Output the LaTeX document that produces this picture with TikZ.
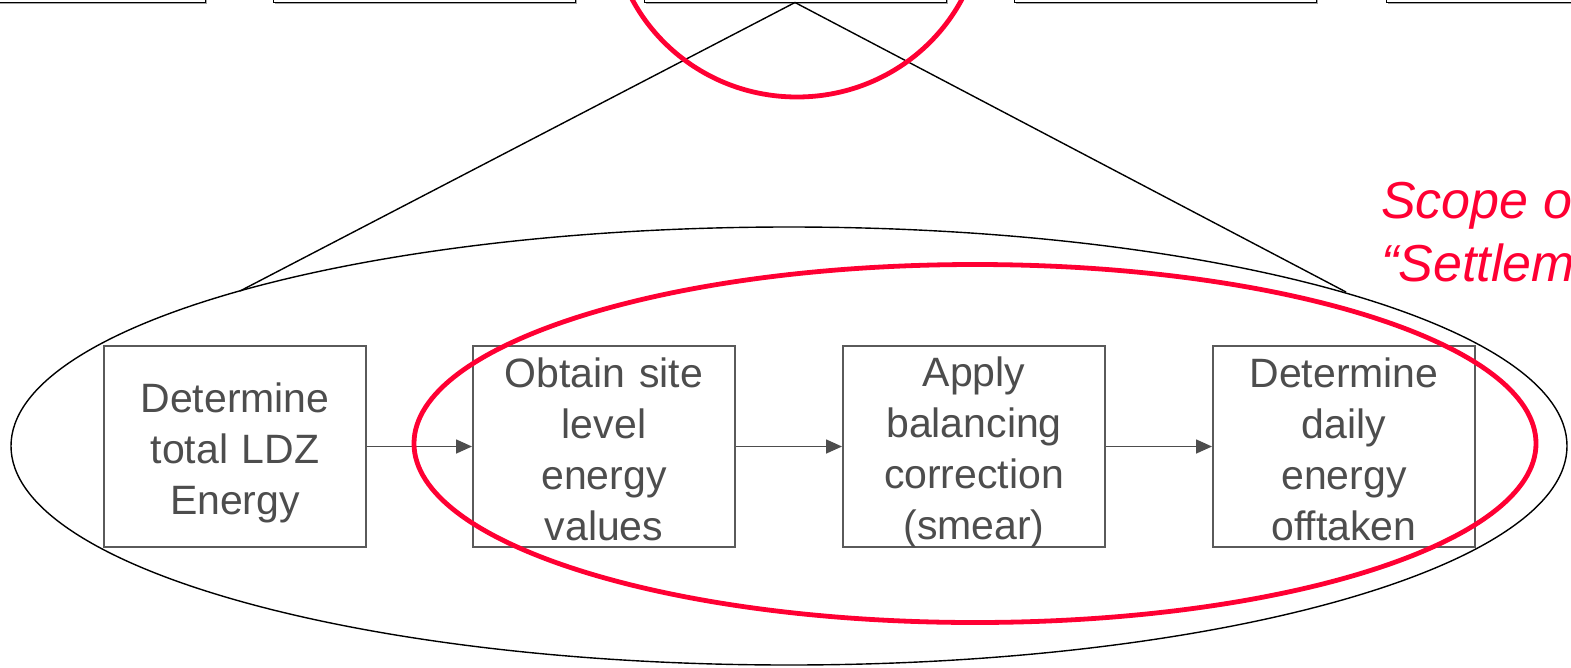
\documentclass[tikz,border=0pt]{standalone}
\usepackage{fontspec}
\setmainfont{Liberation Sans}
\usetikzlibrary{arrows.meta,shapes.geometric,shadows}
\definecolor{scopered}{RGB}{255,0,51}
\definecolor{boxgray}{RGB}{90,90,90}
\definecolor{textgray}{RGB}{77,77,77}
\tikzset{
  topbox/.style={draw=black, line width=1pt, fill=white, minimum width=302pt,
    minimum height=100pt, inner sep=0pt,
    drop shadow={shadow xshift=1.8pt, shadow yshift=-1.8pt, fill=gray!70, opacity=1}},
  stepbox/.style={draw=boxgray, line width=2pt, fill=white, minimum width=262pt,
    minimum height=201pt, inner sep=0pt},
  steptext/.style={text width=250pt, inner sep=0pt, align=center,
    text=textgray, font=\fontsize{41}{51}\selectfont},
  flow/.style={draw=textgray, line width=1.6pt, -{Triangle[length=16pt,width=14pt]}},
  zoomline/.style={draw=black, line width=1.4pt},
  redring/.style={draw=scopered, line width=4.8pt}
}
\begin{document}
\begin{tikzpicture}[x=1pt,y=-1pt]
\useasboundingbox (0,0) rectangle (1571,667);

% row of process boxes along the top edge
\node[topbox] (t1) at (54,-48) {};
\node[topbox] (t2) at (424,-48) {};
\node[topbox] (t3) at (795,-48) {};
\node[topbox] (t4) at (1165,-48) {};
\node[topbox] (t5) at (1537,-48) {};

% expanded view of the middle process
\node[ellipse, draw=black, line width=1.4pt, minimum width=1556pt,
      minimum height=438pt, inner sep=0pt] (detail) at (789,446) {};
\coordinate (lend) at (240,291);
\coordinate (rend) at (1346,292);
\draw[zoomline] (lend) -- (t3.south) -- (rend);

% sub-steps: frames, then their wording
\node[stepbox] (s1) at (235,446.5) {};
\node[stepbox] (s2) at (604,446.5) {};
\node[stepbox] (s3) at (974,446.5) {};
\node[stepbox] (s4) at (1344,446.5) {};

\node[steptext] (s1text) at ([yshift=-6pt]s1.center) {Determine\\total LDZ\\Energy};
\node[steptext] (s2text) at ([yshift=-3pt]s2.center) {Obtain site\\level\\energy\\values};
\node[steptext] (s3text) at ([yshift=-6pt]s3.center) {Apply\\balancing\\correction\\(smear)};
\node[steptext] (s4text) at ([yshift=-3pt]s4.center) {Determine\\daily\\energy\\offtaken};

\draw[flow] (s1.east) -- (s2.west);
\draw[flow] (s2.east) -- (s3.west);
\draw[flow] (s3.east) -- (s4.west);

% highlighted scope
\draw[redring] (797,-85) ellipse [x radius=186, y radius=182];
\node[ellipse, draw=scopered, line width=4.8pt, minimum width=1122pt,
      minimum height=358pt, inner sep=0pt] (scope) at (975,443.5) {};

\node[anchor=north west, align=left, text=scopered, inner sep=0pt,
      font=\fontsize{52}{63}\selectfont\itshape] (scopelabel) at (1381,181)
      {Scope of\\“Settlement”};
\end{tikzpicture}
\end{document}
